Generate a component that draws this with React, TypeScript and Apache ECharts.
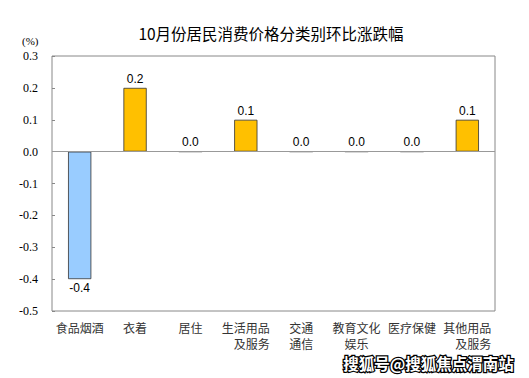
import React, { useEffect, useRef } from "react";
import * as echarts from "echarts";

const categories = ["食品烟酒", "衣着", "居住", "生活用品\n\u3000及服务", "交通\n通信", "教育文化\n娱乐", "医疗保健", "其他用品\n\u3000及服务"];
const values = [-0.4, 0.2, 0.0, 0.1, 0.0, 0.0, 0.0, 0.1];
const titleText = "10月份居民消费价格分类别环比涨跌幅";
const unitText = "(%)";
const watermark = "搜狐号@搜狐焦点渭南站";

export default function App() {
  const ref = useRef<HTMLDivElement>(null);
  useEffect(() => {
    if (!ref.current) return;
    const chart = echarts.init(ref.current, null, { renderer: "svg" });
    const cjk = "'Noto Sans CJK SC', 'Liberation Sans', sans-serif";
    chart.setOption({
      animation: false,
      backgroundColor: "#fff",
      title: {
        text: titleText,
        left: 266,
        textAlign: "center",
        top: 20,
        textStyle: { fontSize: 15.5, fontWeight: "normal", color: "#000", fontFamily: cjk },
      },
      graphic: [
        {
          type: "text",
          left: 22,
          top: 35,
          style: { text: unitText, fontSize: 11, fill: "#000", fontFamily: "'Liberation Serif', serif" },
        },
        {
          type: "text",
          right: 14,
          top: 354,
          style: {
            text: watermark,
            fontSize: 15.5,
            fontWeight: "bold",
            fill: "#fff",
            stroke: "#000",
            lineWidth: 2.5,
            fontFamily: cjk,
          },
        },
      ],
      grid: { left: 52, right: 34, top: 56, height: 255, show: true, borderColor: "#888", borderWidth: 1, backgroundColor: "transparent" },
      xAxis: {
        type: "category",
        data: categories,
        axisLine: { show: false, onZero: false },
        axisTick: { show: false },
        axisLabel: { interval: 0, fontSize: 12, color: "#333", fontFamily: cjk, lineHeight: 16, margin: 8 },
      },
      yAxis: {
        type: "value",
        min: -0.5,
        max: 0.3,
        interval: 0.1,
        axisLine: { show: false },
        axisTick: { show: true, inside: true, length: 3, lineStyle: { color: "#888" } },
        splitLine: { show: false },
        axisLabel: {
          formatter: (v: number) => v.toFixed(1),
          fontSize: 12,
          color: "#000",
          fontFamily: "'Liberation Serif', serif",
          margin: 14,
        },
      },
      series: [
        {
          type: "bar",
          barWidth: "42%",
          data: values.map((v) => ({
            value: v,
            itemStyle: { color: v < 0 ? "#99CCFF" : "#FFC000", borderColor: "#333", borderWidth: 0.8 },
            label: { show: true, position: v < 0 ? "bottom" : "top", distance: 3 },
          })),
          label: {
            show: true,
            formatter: (p: any) => Number(p.value).toFixed(1),
            fontSize: 12,
            color: "#000",
            fontFamily: "'Liberation Sans', sans-serif",
          },
          markLine: {
            silent: true,
            symbol: "none",
            label: { show: false },
            lineStyle: { color: "#999", type: "solid", width: 1.2 },
            data: [{ yAxis: 0 }],
          },
        },
      ],
    });
    return () => chart.dispose();
  }, []);
  return <div ref={ref} style={{ width: 529, height: 378, position: "absolute", left: 0, top: 0 }} />;
}
